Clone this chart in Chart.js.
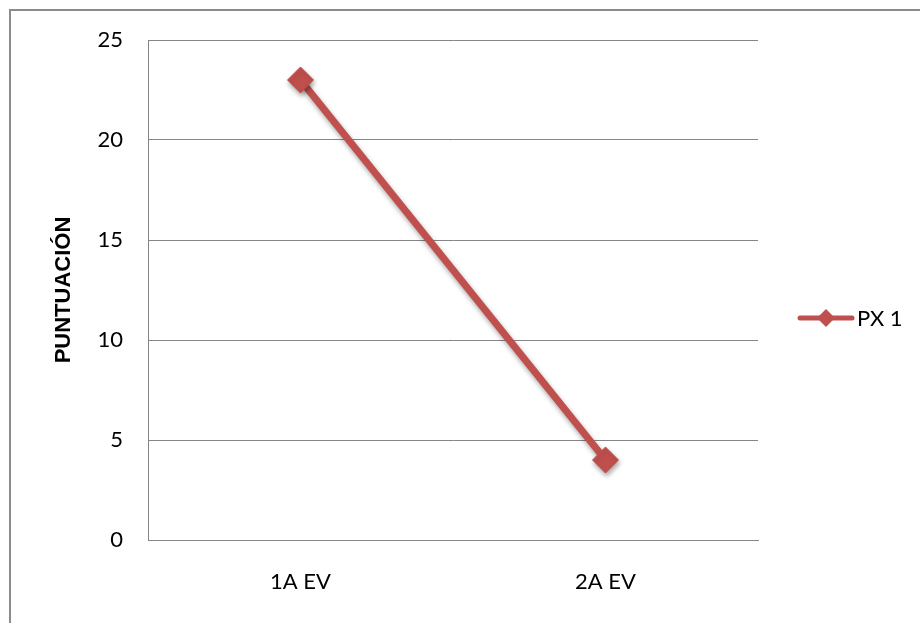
<!DOCTYPE html>
<html>
<head>
<meta charset="utf-8">
<script src="https://cdn.jsdelivr.net/npm/chart.js@4/dist/chart.umd.min.js"></script>
<style>
  html, body { margin: 0; padding: 0; background: #ffffff; }
  #wrap { position: relative; width: 920px; height: 623px; overflow: hidden; }
  #frame { position: absolute; left: 9px; top: 9px; width: 960px; height: 700px;
           border-left: 2px solid #8c8c8c; border-top: 2px solid #8c8c8c; box-sizing: border-box; }
  canvas { position: absolute; left: 0; top: 0; }
</style>
</head>
<body>
<div id="wrap">
  <div id="frame"></div>
  <canvas id="c" width="920" height="623"></canvas>
</div>
<script>
// Evaluation rounds and scores
const categories = ['1A EV', '2A EV'];
const seriesName = 'PX 1';
const seriesValues = [23, 4];
const yTicks = [0, 5, 10, 15, 20, 25];
const yTitle = 'PUNTUACIÓN';

const red = '#C0504D';
const gridGray = '#868686';

// Soft drop shadow under the series line and markers
const shadowPlugin = {
  id: 'seriesShadow',
  beforeDatasetsDraw(chart) {
    const ctx = chart.ctx;
    ctx.save();
    ctx.shadowColor = 'rgba(0,0,0,0.35)';
    ctx.shadowBlur = 5;
    ctx.shadowOffsetX = 1;
    ctx.shadowOffsetY = 3;
  },
  afterDatasetsDraw(chart) {
    chart.ctx.restore();
  }
};

// Legend: line sample with a diamond marker, then the series name
const legendPlugin = {
  id: 'lineLegend',
  afterDraw(chart) {
    const ctx = chart.ctx;
    const ds = chart.data.datasets[0];
    const y = 318;
    ctx.save();
    ctx.strokeStyle = ds.borderColor;
    ctx.lineWidth = 5;
    ctx.lineCap = 'round';
    ctx.beginPath();
    ctx.moveTo(800, y);
    ctx.lineTo(852, y);
    ctx.stroke();
    ctx.fillStyle = ds.borderColor;
    ctx.beginPath();
    ctx.moveTo(826 - 9, y);
    ctx.lineTo(826, y - 9);
    ctx.lineTo(826 + 9, y);
    ctx.lineTo(826, y + 9);
    ctx.closePath();
    ctx.fill();
    ctx.fillStyle = '#000000';
    ctx.font = '22px Lato';
    ctx.textAlign = 'left';
    ctx.textBaseline = 'middle';
    ctx.fillText(ds.label, 857, y + 1);
    ctx.restore();
  }
};

new Chart(document.getElementById('c'), {
  type: 'line',
  data: {
    labels: categories,
    datasets: [{
      label: seriesName,
      data: seriesValues,
      borderColor: red,
      backgroundColor: red,
      borderWidth: 7,
      pointStyle: 'rectRot',
      pointRadius: 13,
      pointHoverRadius: 13,
      pointBorderWidth: 1,
      pointBackgroundColor: red,
      pointBorderColor: red,
      tension: 0
    }]
  },
  options: {
    responsive: false,
    animation: false,
    events: [],
    layout: { padding: { top: 40, right: 162, bottom: 0, left: 0 } },
    plugins: {
      legend: { display: false },
      tooltip: { enabled: false }
    },
    scales: {
      x: {
        offset: true,
        grid: { display: false, drawTicks: false },
        border: { display: true, color: gridGray, width: 1 },
        ticks: { color: '#000000', font: { family: 'Lato', size: 22 }, padding: 29 },
        afterFit(scale) { scale.height = 83; }
      },
      y: {
        min: 0,
        max: 25,
        afterBuildTicks(scale) { scale.ticks = yTicks.map(v => ({ value: v })); },
        grid: { color: gridGray, lineWidth: 1, drawTicks: false },
        border: { display: true, color: gridGray, width: 1 },
        ticks: { color: '#000000', font: { family: 'Lato', size: 22 }, padding: 25 },
        title: {
          display: true,
          text: yTitle,
          color: '#000000',
          font: { family: 'Liberation Sans', size: 22, weight: 'bold' },
          padding: { top: 51, bottom: 0 }
        },
        afterFit(scale) { scale.width = 148; }
      }
    }
  },
  plugins: [shadowPlugin, legendPlugin]
});
</script>
</body>
</html>
